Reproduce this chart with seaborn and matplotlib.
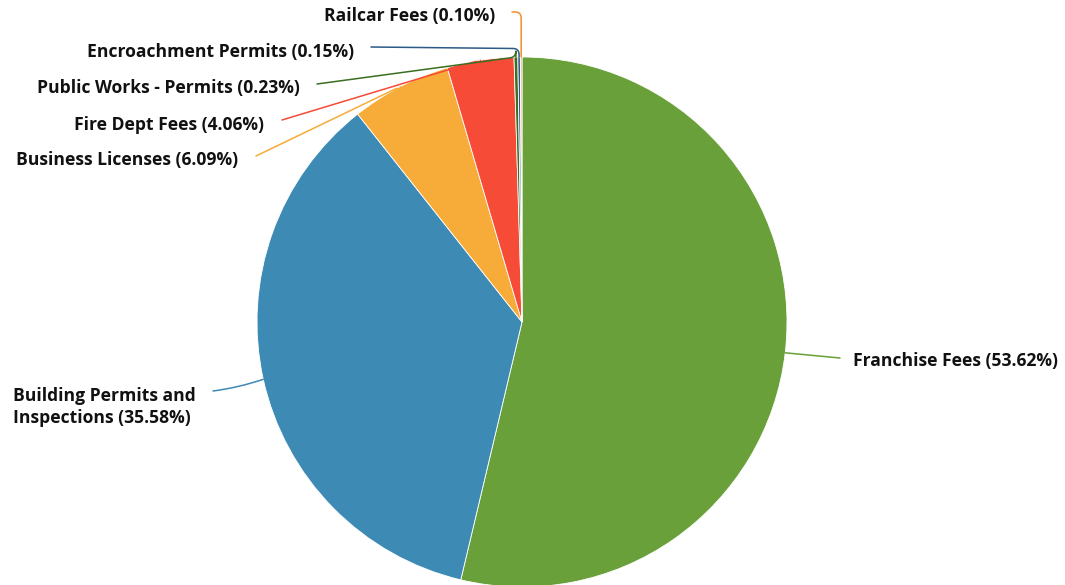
import matplotlib
matplotlib.use("Agg")
import matplotlib.pyplot as plt
import seaborn as sns
import numpy as np

categories = ["Franchise Fees", "Building Permits and\nInspections", "Business Licenses",
              "Fire Dept Fees", "Public Works - Permits", "Encroachment Permits", "Railcar Fees"]
values = [53.62, 35.58, 6.09, 4.06, 0.23, 0.15, 0.10]
colors = ["#69a03a", "#3d8ab5", "#f7ab38", "#f64b37", "#3b6e22", "#2b5a87", "#f4a582"]
line_colors = ["#69a03a", "#3d8ab5", "#f7ab38", "#f64b37", "#3b6e22", "#2b5a87", "#f28e2b"]

sns.set_theme(style="white")
plt.rcParams['font.family'] = ['Open Sans', 'DejaVu Sans']

fig = plt.figure(figsize=(10.65, 5.85), dpi=100)
ax = fig.add_axes([0, 0, 1, 1])

cx, cy, R = 522, 322, 265
wedges, _ = ax.pie(values, colors=colors, center=(cx, cy), radius=R,
                   startangle=-90, counterclock=True, frame=True,
                   wedgeprops=dict(linewidth=0.6, edgecolor="white"))
ax.set_xlim(0, 1065)
ax.set_ylim(585, 0)
ax.axis("off")

# label layout: (text x, text y, ha, line start x, line start y, connection style)
layout = [
    (853, 361, "left", 840, 358, "arc3,rad=0.0"),
    (13, 407, "left", 213, 391, "arc3,rad=0.05"),
    (238, 160, "right", 256, 156, "angle"),
    (264, 125, "right", 282, 120, "angle"),
    (300, 88, "right", 317, 84, "angle"),
    (354, 52, "right", 371, 47, "angle"),
    (495, 16, "right", 512, 12, "angle"),
]

for w, cat, val, lc, (tx, ty, ha, lx, ly, cs) in zip(wedges, categories, values, line_colors, layout):
    mid = np.deg2rad((w.theta1 + w.theta2) / 2)
    ex = cx + R * np.cos(mid)
    ey = cy + R * np.sin(mid)
    label = f"{cat} ({val:.2f}%)"
    ax.text(tx, ty, label, ha=ha, va="center", fontsize=12.6, fontweight="bold",
            color="#111111", linespacing=1.28)
    if cs == "angle":
        disp_rad = (-np.rad2deg(mid)) % 360
        dx, dy = ex - lx, -(ey - ly)
        angA = np.rad2deg(np.arctan2(dy, dx))
        if abs(disp_rad - 90) < 8:
            disp_rad = 90
            if ly < 50:
                angA = 0 if ly < 20 else angA * 0.15
        style = f"angle,angleA={angA:.1f},angleB={disp_rad:.1f},rad=6"
    else:
        style = cs
    ax.annotate("", xy=(ex, ey), xytext=(lx, ly),
                arrowprops=dict(arrowstyle="-", color=lc, lw=1.1,
                                connectionstyle=style, shrinkA=0, shrinkB=0))

fig.savefig("out.png", dpi=100)
